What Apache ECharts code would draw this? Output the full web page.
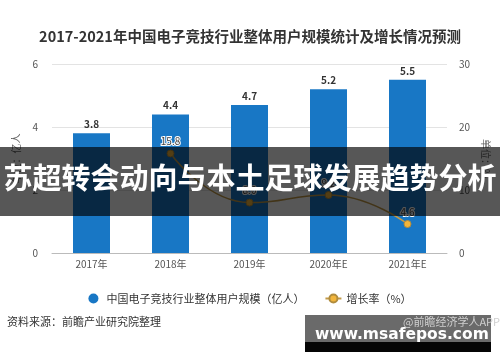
<!DOCTYPE html>
<html><head><meta charset="utf-8">
<script src="https://cdn.jsdelivr.net/npm/echarts@6/dist/echarts.min.js"></script>
<style>html,body{margin:0;padding:0;background:#fff}#c{width:500px;height:362px}</style>
</head><body><div id="c"></div>
<script>
const categories = ['2017年','2018年','2019年','2020年E','2021年E'];
const users = [3.8, 4.4, 4.7, 5.2, 5.5];
const growth = [null, 15.8, 8.0, 9.2, 4.6];
const leftTicks = [0, 2, 4, 6];
const rightTicks = [0, 10, 20, 30];
const titleText = '2017-2021年中国电子竞技行业整体用户规模统计及增长情况预测';
const seriesNames = ['中国电子竞技行业整体用户规模（亿人）', '增长率（%）'];
const sourceText = '资料来源：前瞻产业研究院整理';
const bannerText = '苏超转会动向与本土足球发展趋势分析';
const siteText = 'www.msafepos.com';
const appText = '@前瞻经济学人APP';

const font = '"Noto Sans CJK SC", "Noto Sans", sans-serif';
const chart = echarts.init(document.getElementById('c'), null, {renderer:'canvas'});
chart.setOption({
  animation: false,
  textStyle: {fontFamily: font},
  title: {text: titleText, left: 'center', top: 24,
    textStyle: {fontSize: 14.5, fontWeight: 'bold', color: '#333', fontFamily: font}},
  legend: {top: 288, left: 'center', itemGap: 20, itemWidth: 16, itemHeight: 10,
    textStyle: {fontSize: 11, color: '#333', fontFamily: font},
    data: [{name: seriesNames[0], icon: 'circle'}, {name: seriesNames[1]}]},
  grid: {left: 52, right: 53, top: 64, bottom: 109},
  xAxis: {type: 'category', data: categories,
    axisLine: {lineStyle: {color: '#bbb'}},
    axisTick: {alignWithLabel: true, length: 4, lineStyle: {color: '#bbb'}},
    axisLabel: {color: '#555', fontSize: 10, margin: 6, fontFamily: font}},
  yAxis: [
    {type: 'value', min: leftTicks[0], max: leftTicks[leftTicks.length-1], interval: 2,
     name: '单位：亿人', nameLocation: 'middle', nameGap: 28, nameRotate: 90,
     nameTextStyle: {color: '#666', fontSize: 10, fontFamily: font},
     axisLabel: {color: '#555', fontSize: 10, margin: 14},
     splitLine: {lineStyle: {color: '#e3e3e3'}}, axisLine: {show: false}, axisTick: {show: false}},
    {type: 'value', min: rightTicks[0], max: rightTicks[rightTicks.length-1], interval: 10,
     name: '单位：%', nameLocation: 'middle', nameGap: 34, nameRotate: -90,
     nameTextStyle: {color: '#666', fontSize: 10, fontFamily: font},
     axisLabel: {color: '#555', fontSize: 10, margin: 12},
     splitLine: {show: false}, axisLine: {show: false}, axisTick: {show: false}}
  ],
  series: [
    {name: seriesNames[0], type: 'bar', data: users, barWidth: 37,
     itemStyle: {color: '#1877c5'},
     label: {show: true, position: 'top', distance: 4, color: '#333', fontWeight: 'bold', fontSize: 10,
       formatter: p => p.value.toFixed(1)}},
    {name: seriesNames[1], type: 'line', yAxisIndex: 1, data: growth, smooth: true,
     symbol: 'circle', symbolSize: 7,
     lineStyle: {color: '#c29a48', width: 1.5},
     itemStyle: {color: '#f2b53b', borderColor: '#b08c3e', borderWidth: 1},
     label: {show: true, position: 'top', distance: 3, color: '#444', fontSize: 10,
       textBorderColor: '#fff', textBorderWidth: 2, formatter: p => p.value.toFixed(1)}}
  ],
  graphic: [
    {type: 'text', left: 7, top: 316, style: {text: sourceText, fill: '#333', font: '11px ' + font}},
    {type: 'rect', left: 305, top: 315, shape: {width: 186, height: 27}, style: {fill: '#6a6a6a'}, z: 100},
    {type: 'rect', left: 305, top: 342, shape: {width: 186, height: 10}, style: {fill: '#050505'}, z: 100},
    {type: 'text', right: 0, top: 316, style: {text: appText, fill: '#cfcfcf', font: '11px ' + font}, z: 101},
    {type: 'text', left: 315, top: 327, style: {text: siteText, fill: '#fff', font: 'bold 15.5px "DejaVu Sans", sans-serif'}, z: 101},
    {type: 'rect', left: 0, top: 147, shape: {width: 500, height: 69}, style: {fill: 'rgba(0,0,0,0.66)'}, z: 100},
    {type: 'text', left: 'center', top: 163, style: {text: bannerText, fill: '#fff', font: 'bold 29px ' + font}, z: 101}
  ]
});
</script></body></html>
